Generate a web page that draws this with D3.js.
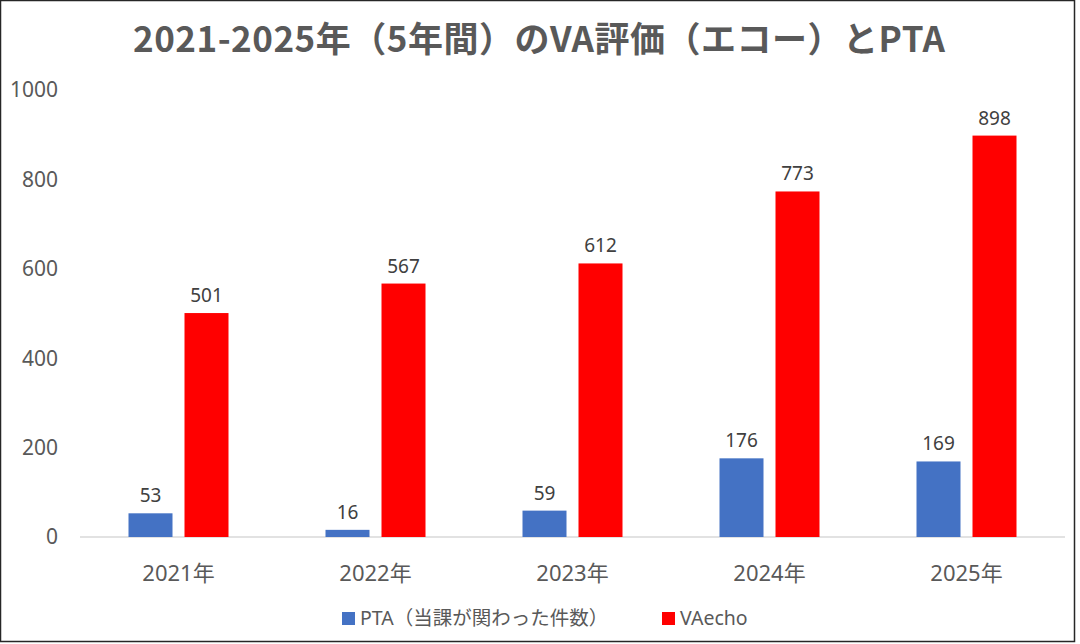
<!DOCTYPE html>
<meta charset="utf-8">
<style>
body { margin: 0; background: #fff; }
text { font-family: "Noto Sans", "Noto Sans CJK JP", sans-serif; }
</style>
<body>
<script src="https://cdn.jsdelivr.net/npm/d3@7"></script>
<script>

// data
var years = ["2021年", "2022年", "2023年", "2024年", "2025年"];
var pta = [53, 16, 59, 176, 169];
var vaecho = [501, 567, 612, 773, 898];
var seriesNames = ["PTA（当課が関わった件数）", "VAecho"];
var seriesColors = ["#4472C4", "#FF0000"];
var yTicks = [0, 200, 400, 600, 800, 1000];

var W = 1080, H = 644;
var margin = {top: 90, right: 15, bottom: 107, left: 80},
    width = 1065 - margin.left,
    height = 537 - margin.top;

var svg = d3.select("body").append("svg")
    .attr("width", W)
    .attr("height", H);

// chart border
svg.append("rect")
    .attr("x", 0.5).attr("y", 0.5)
    .attr("width", 1074).attr("height", 641)
    .attr("fill", "#fff")
    .attr("stroke", "#262626")
    .attr("stroke-width", 1.5);

var g = svg.append("g")
    .attr("transform", "translate(" + margin.left + "," + margin.top + ")");

var x = d3.scaleBand().domain(years).range([0, width]);
var y = d3.scaleLinear().domain([0, 1000]).range([height, 0]);

var barW = 44, gap = 12;

// y tick labels (no gridlines)
g.selectAll(".ytick")
    .data(yTicks)
  .enter().append("text")
    .attr("x", -22)
    .attr("y", function(d) { return y(d); })
    .attr("dy", "0.35em")
    .attr("text-anchor", "end")
    .style("font-size", "21px")
    .style("fill", "#595959")
    .text(function(d) { return d; });

// baseline
g.append("line")
    .attr("x1", 0).attr("x2", width)
    .attr("y1", y(0)).attr("y2", y(0))
    .attr("stroke", "#D9D9D9")
    .attr("stroke-width", 1.5);

var series = [pta, vaecho];

series.forEach(function(vals, s) {
  var off = s === 0 ? -(gap / 2 + barW) : gap / 2;
  var grp = g.append("g");
  grp.selectAll("rect")
      .data(vals)
    .enter().append("rect")
      .attr("x", function(d, i) { return x(years[i]) + x.bandwidth() / 2 + off; })
      .attr("y", function(d) { return y(d); })
      .attr("width", barW)
      .attr("height", function(d) { return y(0) - y(d); })
      .attr("fill", seriesColors[s]);
  grp.selectAll("text")
      .data(vals)
    .enter().append("text")
      .attr("x", function(d, i) { return x(years[i]) + x.bandwidth() / 2 + off + barW / 2; })
      .attr("y", function(d) { return y(d) - 11; })
      .attr("text-anchor", "middle")
      .style("font-size", "19px")
      .style("fill", "#404040")
      .text(function(d) { return d; });
});

// category labels
g.selectAll(".xlab")
    .data(years)
  .enter().append("text")
    .attr("x", function(d) { return x(d) + x.bandwidth() / 2; })
    .attr("y", y(0) + 44)
    .attr("text-anchor", "middle")
    .style("font-size", "22px")
    .style("fill", "#595959")
    .text(function(d) { return d; });

// title
svg.append("text")
    .attr("x", 539)
    .attr("y", 40)
    .attr("dy", "0.35em")
    .attr("text-anchor", "middle")
    .attr("textLength", 812)
    .attr("lengthAdjust", "spacing")
    .style("font-family", "'Noto Sans CJK JP', sans-serif")
    .style("font-size", "35px")
    .style("font-weight", "bold")
    .style("fill", "#595959")
    .text("2021-2025年（5年間）のVA評価（エコー）とPTA");

// legend
var legX = [342, 662];
seriesNames.forEach(function(name, i) {
  svg.append("rect")
      .attr("x", legX[i]).attr("y", 612)
      .attr("width", 13).attr("height", 13)
      .attr("fill", seriesColors[i]);
  svg.append("text")
      .attr("x", legX[i] + 18)
      .attr("y", 618.5)
      .attr("dy", "0.35em")
      .style("font-size", "19.5px")
      .style("fill", "#595959")
      .text(name);
});

</script>
</body>
